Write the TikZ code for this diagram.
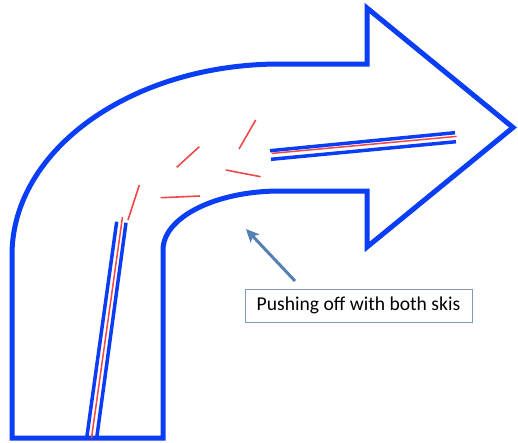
\documentclass[tikz,border=0pt]{standalone}
\usepackage{fontspec}
\setmainfont{Carlito}
\usetikzlibrary{arrows.meta}
\definecolor{skiblue}{HTML}{0A3EF6}
\definecolor{trackred}{HTML}{F04848}
\definecolor{steelblue}{HTML}{5680B2}
\definecolor{boxgray}{HTML}{8099B8}

\begin{document}
\begin{tikzpicture}[x=1pt, y=-1pt, >=Stealth]
\useasboundingbox (0,0) rectangle (518,442);

% Turning arrow outline: stem at the bottom left, head pointing right
\draw[skiblue, line width=5pt, line join=miter]
  (12,438) -- (12,255)
  .. controls (12,149.5) and (132,64) .. (280,64)
  -- (367,64) -- (367,8) -- (513,127.5) -- (367,247) -- (367,191)
  -- (280,191)
  .. controls (215.4,191) and (163,217.4) .. (163,250)
  -- (163,438) -- cycle;

% Ski before the turn (both skis side by side)
\draw[skiblue, line width=3.5pt] (116.7,221.7) -- (86.7,438);
\draw[skiblue, line width=3.5pt] (126,222.7) -- (96.7,438);
\draw[trackred, line width=1.5pt] (122.5,217) -- (91.5,438);

% Ski after the turn
\draw[skiblue, line width=3.5pt] (270,150.7) -- (455,132.7);
\draw[skiblue, line width=3.5pt] (271,159.3) -- (456,141.7);
\draw[trackred, line width=1.5pt] (271.7,153.4) -- (456.7,136.4);

% Scattered tracks while pushing off
\draw[trackred, line width=1.6pt] (128,220) -- (139.3,185);
\draw[trackred, line width=1.6pt] (160.7,197.7) -- (200,196);
\draw[trackred, line width=1.6pt] (176.7,167.3) -- (199.3,146.7);
\draw[trackred, line width=1.6pt] (225.7,170) -- (260.7,176.7);
\draw[trackred, line width=1.6pt] (239,149) -- (255.7,120);

% Caption with pointer
\node[draw=boxgray, line width=0.8pt, minimum width=227pt, minimum height=33pt,
      inner sep=0pt, font=\fontsize{19.6}{23}\selectfont] (caption)
  at (358.5,305.5) {Pushing off with both skis};
\coordinate (tail) at (295,281);
\coordinate (tip) at (246,229);
\draw[->, steelblue, line width=3pt, >={Stealth[length=13pt, width=12pt, inset=3pt]}]
  (tail) -- (tip);

\end{tikzpicture}
\end{document}
